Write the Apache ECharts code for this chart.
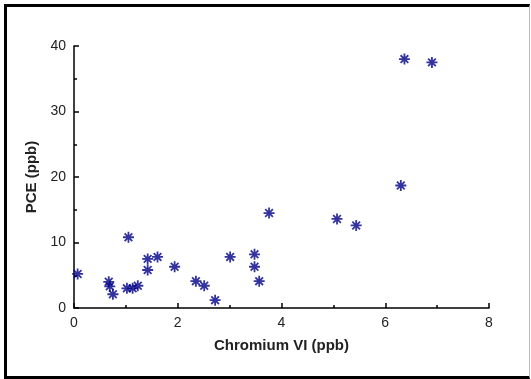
<!DOCTYPE html>
<html>
<head>
<meta charset="utf-8">
<script src="https://cdn.jsdelivr.net/npm/echarts@6/dist/echarts.min.js"></script>
<style>
html,body{margin:0;padding:0;background:#fff;}
#frame{position:absolute;left:4px;top:4px;width:522px;height:369px;border-top:3px solid #000;border-left:3px solid #000;border-bottom:3px solid #000;border-right:1px solid #bbb;}
#chart{position:absolute;left:0;top:0;width:531px;height:379px;}
</style>
</head>
<body>
<div id="frame"></div>
<div id="chart"></div>
<script>
// Data
const chromiumVI = [0.07, 0.67, 0.69, 0.75, 1.02, 1.05, 1.13, 1.23, 1.42, 1.42, 1.61, 1.94, 2.35, 2.51, 2.72, 3.01, 3.48, 3.48, 3.57, 3.76, 5.07, 5.44, 6.30, 6.37, 6.90];
const pce        = [5.2, 4.0, 3.3, 2.1, 3.0, 10.8, 3.0, 3.4, 7.5, 5.8, 7.8, 6.3, 4.1, 3.4, 1.2, 7.8, 8.2, 6.3, 4.1, 14.5, 13.6, 12.6, 18.7, 38.0, 37.5];
const xTicks = [0, 2, 4, 6, 8];
const yTicks = [0, 10, 20, 30, 40];
const xName = 'Chromium VI (ppb)';
const yName = 'PCE (ppb)';

const points = chromiumVI.map((x, i) => [x, pce[i]]);
const chart = echarts.init(document.getElementById('chart'), null, {renderer: 'canvas'});
const txt = '#222';
const font = 'Liberation Sans, Arial, sans-serif';
chart.setOption({
  animation: false,
  backgroundColor: 'transparent',
  grid: {left: 74, right: 42, top: 46, bottom: 71, containLabel: false},
  xAxis: {
    type: 'value', min: xTicks[0], max: xTicks[xTicks.length - 1], interval: 2,
    name: xName, nameLocation: 'middle', nameGap: 30,
    nameTextStyle: {fontFamily: font, fontSize: 15, fontWeight: 'bold', color: txt},
    axisLine: {show: true, lineStyle: {color: '#000', width: 1.5}},
    axisTick: {show: true, inside: true, length: 5, lineStyle: {color: '#000', width: 1.5}},
    minorTick: {show: true, splitNumber: 2, length: 3, lineStyle: {color: '#000', width: 1.5}},
    splitLine: {show: false},
    axisLabel: {fontFamily: font, fontSize: 14, color: txt, margin: 8}
  },
  yAxis: {
    type: 'value', min: yTicks[0], max: yTicks[yTicks.length - 1], interval: 10,
    name: yName, nameLocation: 'middle', nameGap: 27, nameRotate: 90,
    nameTextStyle: {fontFamily: font, fontSize: 15, fontWeight: 'bold', color: txt},
    axisLine: {show: true, lineStyle: {color: '#000', width: 1.5}},
    axisTick: {show: true, inside: true, length: 5, lineStyle: {color: '#000', width: 1.5}},
    minorTick: {show: true, splitNumber: 2, length: 3, lineStyle: {color: '#000', width: 1.5}},
    splitLine: {show: false},
    axisLabel: {fontFamily: font, fontSize: 14, color: txt, margin: 8}
  },
  series: [{
    type: 'scatter',
    data: points,
    symbol: 'path://M5,0L5,10M0,5L10,5M1.5,1.5L8.5,8.5M1.5,8.5L8.5,1.5',
    symbolSize: 11,
    itemStyle: {color: 'rgba(0,0,0,0)', borderColor: '#000088', borderWidth: 1.8},
    emphasis: {disabled: true}
  }]
});
</script>
</body>
</html>
